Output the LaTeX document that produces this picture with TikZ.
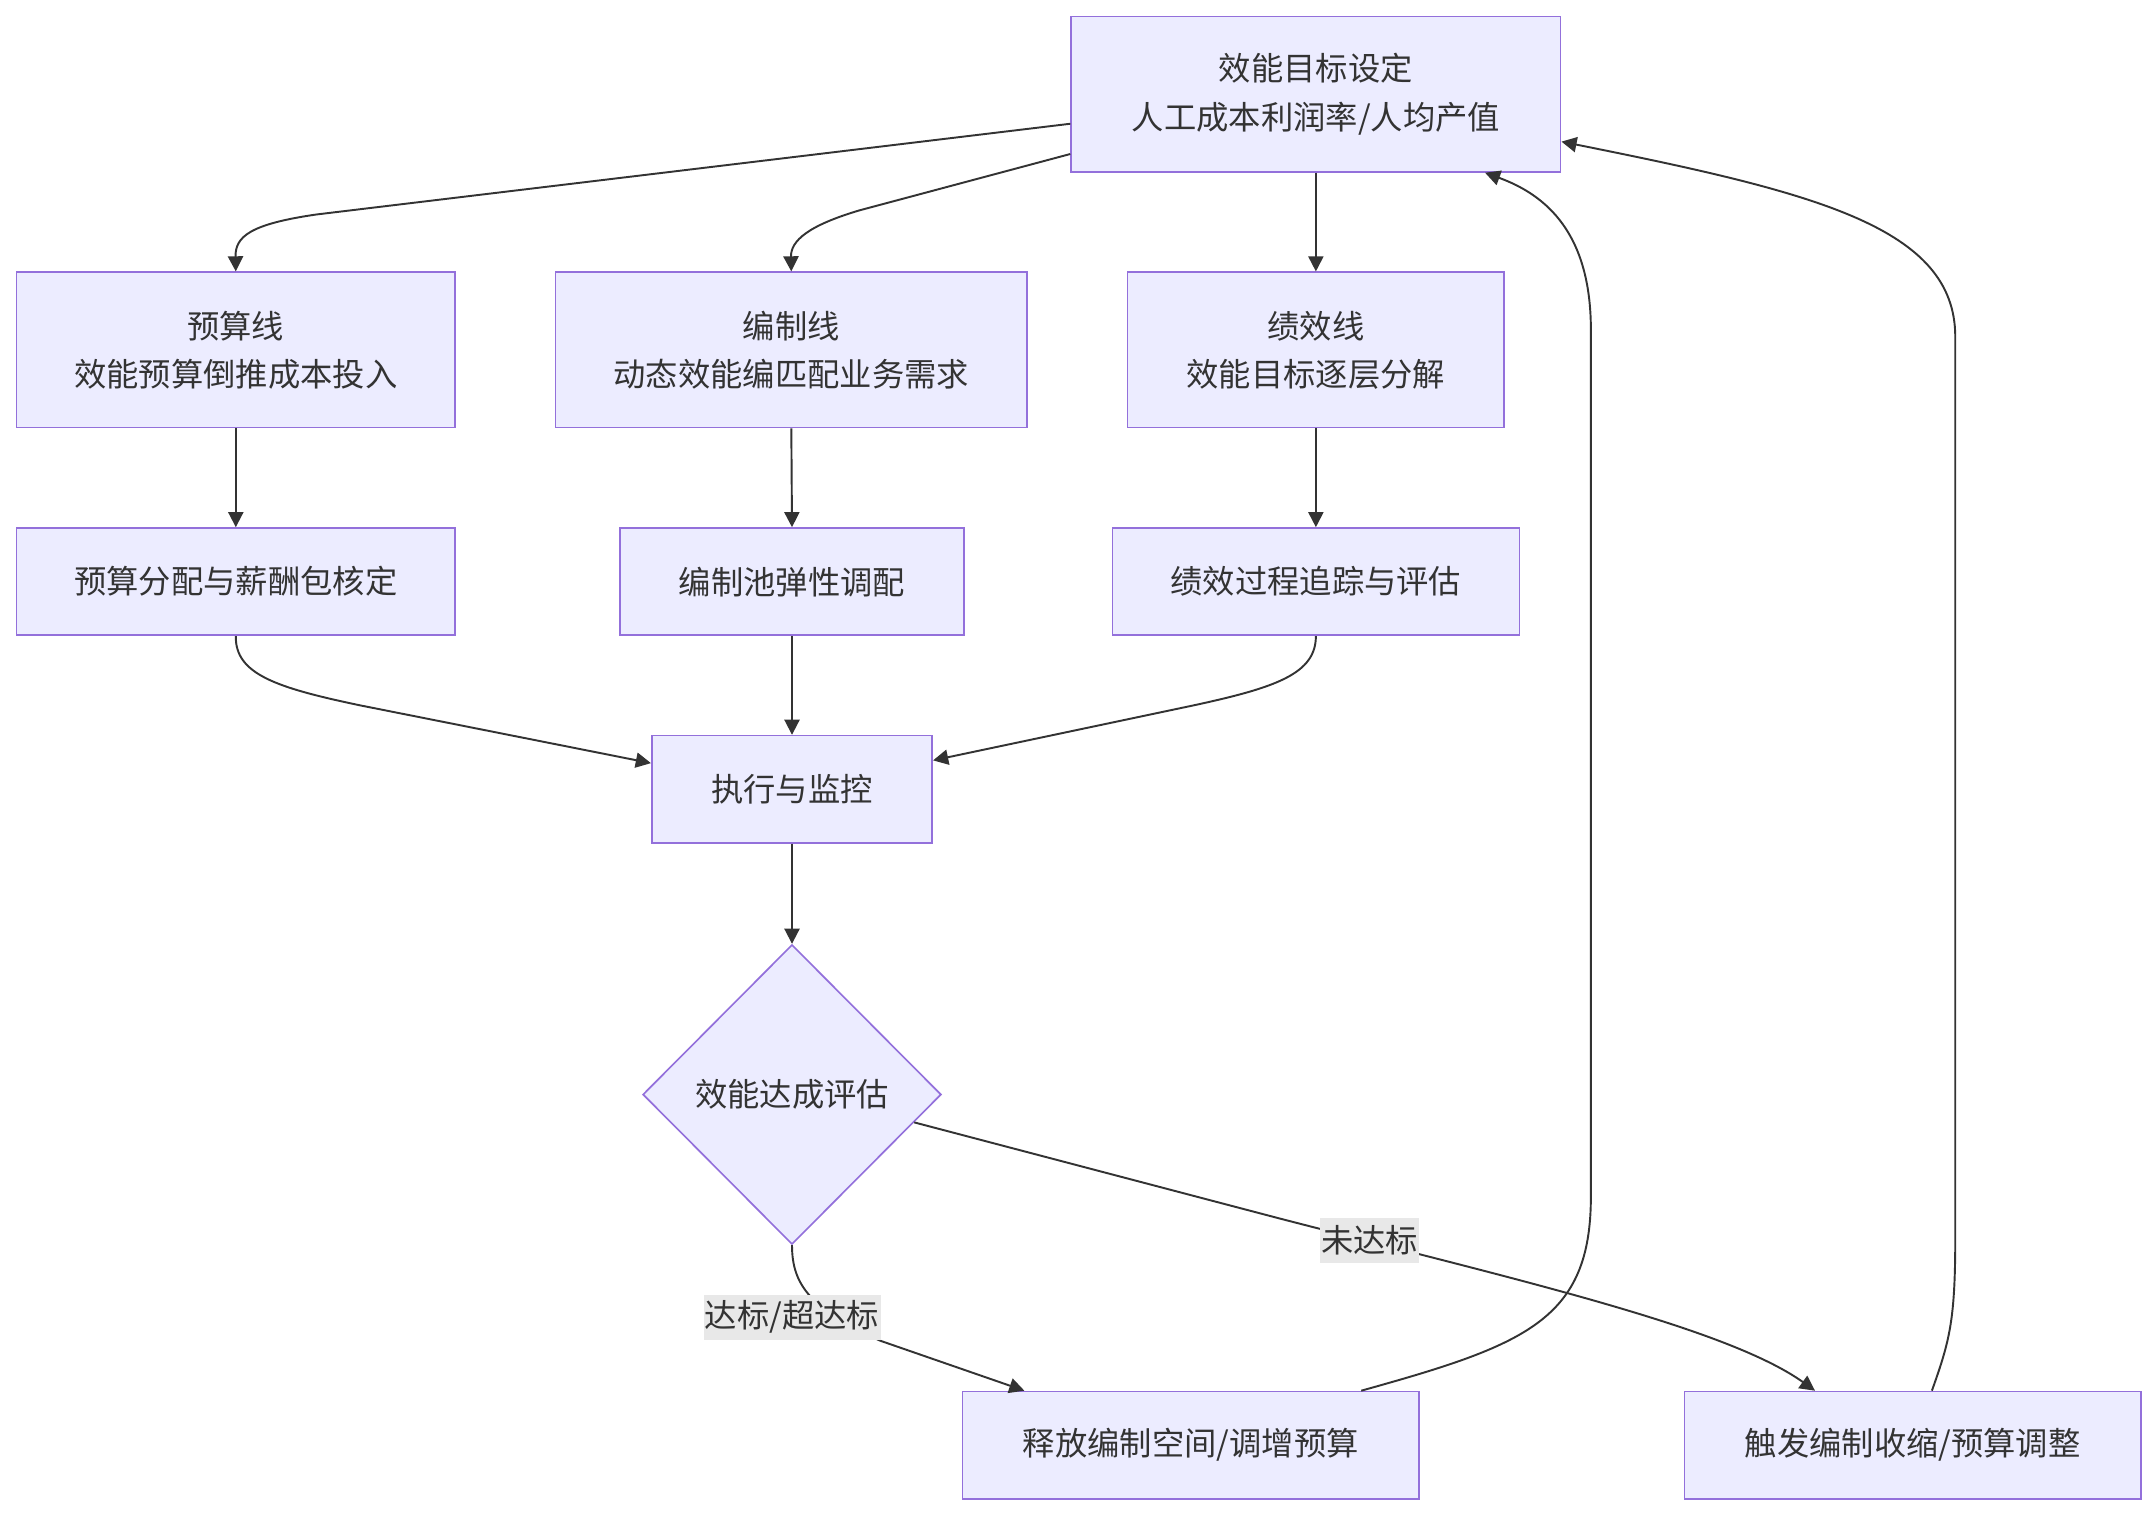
\documentclass[tikz,border=0pt]{standalone}
\usepackage{fontspec}
\setmainfont{Noto Sans CJK SC}
\usetikzlibrary{shapes.geometric,arrows.meta,calc}
\definecolor{nodefill}{HTML}{ECECFF}
\definecolor{nodeborder}{HTML}{9370DB}
\definecolor{linec}{HTML}{333333}
\definecolor{labelbg}{HTML}{E8E8E8}
\tikzset{
  box/.style={draw=nodeborder, fill=nodefill, line width=1.2pt, text=linec, align=center, inner sep=0pt},
  dia/.style={diamond, draw=nodeborder, fill=nodefill, line width=1.2pt, text=linec, align=center, inner sep=0pt, minimum width=217pt, minimum height=218pt},
  conn/.style={draw=linec, line width=1.4pt, -{Triangle[length=11pt,width=11pt]}},
  lbl/.style={fill=labelbg, text=linec, inner xsep=1pt, inner ysep=0pt, minimum height=33pt}
}
\begin{document}
\begin{tikzpicture}[x=1pt,y=-1pt, font=\fontsize{23.5}{35}\selectfont]
\useasboundingbox[fill=white] (0,0) rectangle (1568,1103);

\node[box, minimum width=356pt, minimum height=113pt] (top) at (957,68.5) {效能目标设定\\人工成本利润率/人均产值};
\node[box, minimum width=319pt, minimum height=113pt] (b1) at (171.5,254.5) {预算线\\效能预算倒推成本投入};
\node[box, minimum width=343pt, minimum height=113pt] (b2) at (575.5,254.5) {编制线\\动态效能编匹配业务需求};
\node[box, minimum width=274pt, minimum height=113pt] (b3) at (957,254.5) {绩效线\\效能目标逐层分解};
\node[box, minimum width=319pt, minimum height=78pt] (c1) at (171.5,423) {预算分配与薪酬包核定};
\node[box, minimum width=250pt, minimum height=78pt] (c2) at (576,423) {编制池弹性调配};
\node[box, minimum width=296pt, minimum height=78pt] (c3) at (957,423) {绩效过程追踪与评估};
\node[box, minimum width=204pt, minimum height=78pt] (ex) at (576,574) {执行与监控};
\node[dia] (dc) at (576,796) {效能达成评估};
\node[box, minimum width=332pt, minimum height=78pt] (rel) at (866,1051) {释放编制空间/调增预算};
\node[box, minimum width=332pt, minimum height=78pt] (trg) at (1391,1051) {触发编制收缩/预算调整};

% top to three lines
\draw[conn] ([yshift=-21.5pt]top.west) -- (230,156) .. controls (182,163) and (171,172) .. (b1.north);
\draw[conn] ([yshift=-43.5pt]top.west) -- (625,153) .. controls (588,164) and (575,175) .. (b2.north);
\draw[conn] (top.south) -- (b3.north);

\draw[conn] (b1.south) -- (c1.north);
\draw[conn] (b2.south) -- (c2.north);
\draw[conn] (b3.south) -- (c3.north);

\draw[conn] (c1.south) .. controls (171,490) and (200,500) .. (262,513) -- ([yshift=19pt]ex.west);
\draw[conn] (c2.south) -- (ex.north);
\draw[conn] (c3.south) .. controls (957,490) and (928,500) .. (868,513) -- ([yshift=21pt]ex.east);

\draw[conn] (ex.south) -- (dc.north);

\draw[conn] (dc.south) .. controls (576,935) and (590,952) .. (640,975) -- ([xshift=-121pt]rel.north);
\draw[conn] ($(dc.east)!0.185!(dc.south)$) -- (930,886) .. controls (1100,930) and (1255,965) .. ([xshift=-71pt]trg.north);

\draw[conn] ([xshift=124pt]rel.north) .. controls (1110,978) and (1157,960) .. (1157,870) -- (1157,240) .. controls (1157,170) and (1125,142) .. ([xshift=123pt]top.south);
\draw[conn] ([xshift=14pt]trg.north) .. controls (1418,975) and (1422,960) .. (1422,900) -- (1422,245) .. controls (1422,165) and (1320,140) .. ([yshift=-34.5pt]top.east);

\node[lbl] (l1) at (996,902) {未达标};
\node[lbl] (l2) at (576,958) {达标/超达标};
\end{tikzpicture}
\end{document}
